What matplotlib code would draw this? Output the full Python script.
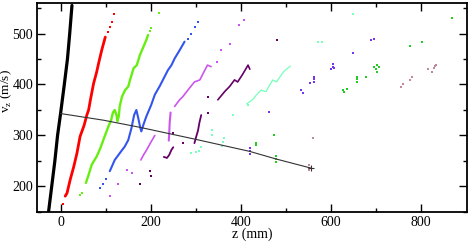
import numpy as np
from matplotlib import pyplot as plt

# snapshots of the bunch in (z, vz) phase space
black_z = [-27, -20, -13, -7, 0, 8, 15, 20, 25]
black_v = [150, 200, 250, 300, 345, 400, 450, 500, 555]

red_z = [10, 14, 21, 29, 36, 43, 52, 58, 62, 66, 73, 80, 84, 91, 99]
red_v = [181, 187, 213, 239, 265, 298, 320, 340, 350, 370, 402, 425, 441, 467, 493]
red_dz = [4, 106, 110, 114, 119]
red_dv = [165, 503, 512, 523, 538]

green_z = [56, 62, 69, 80, 88, 95, 106, 112, 116, 120, 124, 126, 129, 131, 136,
           143, 150, 154, 162, 169, 176, 190, 194]
green_v = [207, 223, 243, 259, 275, 292, 318, 330, 345, 350, 340, 328, 338, 357, 376,
           389, 396, 409, 432, 438, 458, 487, 497]
green_dz = [43, 47, 198, 201, 218]
green_dv = [184, 187, 505, 510, 540]

blue_z = [109, 120, 135, 142, 150, 157, 163, 168, 172, 176, 179, 184, 190, 201,
          209, 220, 227, 238, 246, 253, 264, 275]
blue_v = [230, 252, 270, 278, 291, 314, 340, 350, 335, 318, 308, 322, 337, 360,
          380, 397, 409, 428, 438, 451, 467, 484]
blue_dz = [88, 95, 100, 282, 290, 298, 306]
blue_dv = [197, 204, 215, 490, 500, 512, 523]

mag_arm_z = [178, 184, 191, 201, 209]
mag_arm_v = [252, 262, 272, 288, 300]
mag_bar_z = [240, 241, 242, 244]
mag_bar_v = [290, 305, 325, 345]
mag_up_z = [253, 264, 271, 286, 297, 309, 320, 326, 334]
mag_up_v = [357, 370, 376, 393, 405, 409, 428, 438, 435]
mag_dz = [109, 128, 147, 158, 346, 357, 375, 397, 408]
mag_dv = [182, 204, 233, 226, 444, 467, 480, 516, 526]

plum_j_z = [229, 236, 241, 246, 250]
plum_j_v = [258, 256, 262, 272, 277]
plum_bar_z = [297, 300, 305, 308, 312]
plum_bar_v = [285, 295, 310, 325, 340]
plum_up_z = [349, 364, 375, 386, 393, 404, 412, 416, 420]
plum_up_v = [370, 386, 396, 409, 405, 420, 432, 438, 430]
plum_dz = [176, 198, 201, 249, 271, 326, 326, 481]
plum_dv = [204, 230, 220, 305, 285, 344, 376, 487]

aqua_z = [413, 427, 434, 445, 456, 464, 471, 479, 495, 504, 510]
aqua_v = [362, 371, 379, 389, 386, 399, 409, 405, 425, 432, 436]
aqua_dz = [358, 360, 362, 290, 300, 308, 312, 337, 337, 382, 416, 571, 580, 648]
aqua_dv = [280, 288, 295, 265, 268, 269, 278, 301, 311, 340, 360, 484, 484, 539]

violet_dz = [421, 421, 421, 462, 534, 539, 553, 563, 563, 563, 600, 604, 608, 604,
             648, 689, 695]
violet_dv = [263, 269, 275, 346, 389, 384, 402, 405, 410, 415, 430, 435, 432, 440,
             462, 487, 489]

green2_dz = [479, 479, 479, 434, 434, 473, 626, 630, 635, 659, 659, 659, 678, 696,
             700, 703, 706, 703, 776, 802, 868]
green2_dv = [248, 254, 260, 282, 286, 300, 389, 386, 391, 405, 410, 415, 415, 435,
             430, 438, 434, 425, 476, 484, 531]

mauve_dz = [552, 552, 552, 560, 755, 761, 776, 780, 816, 825, 829, 834, 831]
mauve_dv = [232, 237, 242, 295, 396, 400, 409, 414, 430, 425, 432, 438, 436]

# trajectory of the reference particle
traj_z = [0, 95, 176, 297, 419, 478, 556]
traj_v = [343, 330, 316, 293, 269, 254, 236]

plt.rcParams['font.family'] = ['Liberation Serif', 'DejaVu Serif']
plt.rcParams['mathtext.fontset'] = 'custom'
plt.rcParams['mathtext.rm'] = 'Liberation Serif'

fig = plt.figure(figsize=(4.69, 2.42), dpi=100)
ax = fig.add_axes([0.0795, 0.124, 0.916, 0.864])

streaks = [
    ('black', [(black_z, black_v, 2.3)], ([], [])),
    ('#ff0000', [(red_z, red_v, 2.0)], (red_dz, red_dv)),
    ('#66ee11', [(green_z, green_v, 1.7)], (green_dz, green_dv)),
    ('#3355ee', [(blue_z, blue_v, 1.5)], (blue_dz, blue_dv)),
    ('#cc55ee', [(mag_arm_z, mag_arm_v, 1.2), (mag_bar_z, mag_bar_v, 1.5),
                 (mag_up_z, mag_up_v, 1.2)], (mag_dz, mag_dv)),
    ('#660066', [(plum_j_z, plum_j_v, 1.3), (plum_bar_z, plum_bar_v, 1.3),
                 (plum_up_z, plum_up_v, 1.2)], (plum_dz, plum_dv)),
    ('#77ffbb', [(aqua_z, aqua_v, 0.9)], (aqua_dz, aqua_dv)),
    ('#7733ee', [], (violet_dz, violet_dv)),
    ('#22cc22', [], (green2_dz, green2_dv)),
    ('#c08898', [], (mauve_dz, mauve_dv)),
]

for color, lines, dots in streaks:
    for z, v, lw in lines:
        ax.plot(z, v, '-', color=color, lw=lw, solid_capstyle='round',
                solid_joinstyle='round')
    ax.plot(dots[0], dots[1], 's', color=color, ms=1.8, mew=0)

ax.plot(traj_z, traj_v, '-', color='#333333', lw=0.8)
ax.plot(traj_z[-1], traj_v[-1], '+', color='#333333', ms=5, mew=0.8)

ax.set_xlim(-52, 902)
ax.set_ylim(151, 560)
ax.set_xticks([0, 200, 400, 600, 800])
ax.set_xticks([100, 300, 500, 700], minor=True)
ax.set_yticks([200, 300, 400, 500])
ax.set_yticks([150, 250, 350, 450, 550], minor=True)
ax.tick_params(which='both', direction='in', top=True, right=True,
               labelsize=10, width=1.0, pad=3)
ax.tick_params(which='major', length=6)
ax.tick_params(which='minor', length=3)
for s in ax.spines.values():
    s.set_linewidth(1.3)

ax.set_xlabel('z (mm)', fontsize=10, labelpad=-1)
ax.set_ylabel(r'v$_\mathrm{z}$ (m/s)', fontsize=9.5)
ax.yaxis.set_label_coords(-0.054, 0.58)

fig.savefig('out.png', dpi=100)
